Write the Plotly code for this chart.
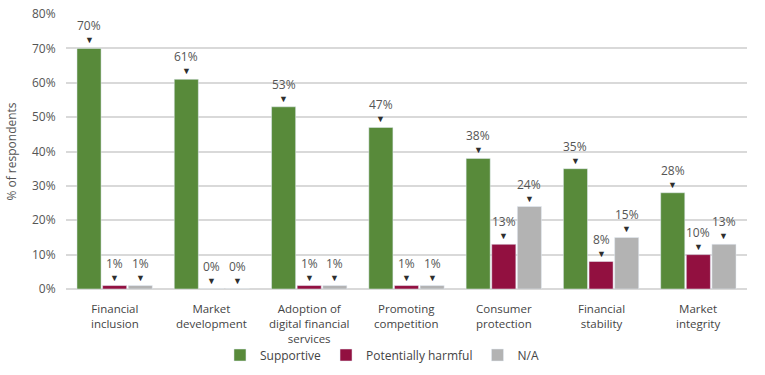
import plotly.graph_objects as go

categories = ["Financial<br>inclusion", "Market<br>development", "Adoption of<br>digital financial<br>services",
              "Promoting<br>competition", "Consumer<br>protection", "Financial<br>stability", "Market<br>integrity"]
supportive = [70, 61, 53, 47, 38, 35, 28]
harmful = [1, 0, 1, 1, 13, 8, 10]
na = [1, 0, 1, 1, 24, 15, 13]
series_names = ["Supportive", "Potentially harmful", "N/A"]
colors = ["#588a3a", "#921040", "#b3b3b3"]

BARGAP = 0.21
GROUPGAP = 0.06

fig = go.Figure()
for name, vals, col in zip(series_names, [supportive, harmful, na], colors):
    fig.add_trace(go.Bar(x=categories, y=vals, name=name, marker_color=col))

# value labels with down-triangle markers
slot = (1 - BARGAP) / 3
annotations = []
for s, vals in enumerate([supportive, harmful, na]):
    off = (s - 1) * slot
    for i, v in enumerate(vals):
        annotations.append(dict(x=i + off, y=v, xref="x", yref="y", text="▼", showarrow=False,
                                yanchor="bottom", yshift=0, font=dict(size=9, color="#2e2e2e")))
        annotations.append(dict(x=i + off, y=v, xref="x", yref="y", text=f"{v}%", showarrow=False,
                                yanchor="bottom", yshift=12, font=dict(size=12, color="#555555")))

# category labels
for i, cat in enumerate(categories):
    annotations.append(dict(x=i, y=0, xref="x", yref="y", text=cat, showarrow=False,
                            yanchor="top", yshift=-10, align="center",
                            font=dict(size=11.5, color="#444444")))

fig.update_layout(
    width=765, height=375,
    margin=dict(l=66, r=18, t=14, b=86, autoexpand=False),
    barmode="group", bargap=BARGAP, bargroupgap=GROUPGAP,
    plot_bgcolor="white", paper_bgcolor="white",
    font=dict(family="Open Sans", size=12, color="#555555"),
    annotations=annotations,
    legend=dict(orientation="h", x=0.464, xanchor="center", y=-0.24, yanchor="middle",
                font=dict(size=12, color="#444444"), itemwidth=30, traceorder="normal"),
    yaxis=dict(range=[0, 80], dtick=10, ticksuffix="%", gridcolor="#d9d9d9", gridwidth=1.5,
               zeroline=True, zerolinecolor="#d9d9d9", zerolinewidth=1.5, automargin=False,
               ticks="outside", ticklen=7, tickcolor="rgba(0,0,0,0)",
               tickfont=dict(size=12, color="#555555"),
               title=dict(text="% of respondents", font=dict(size=12, color="#555555"), standoff=12)),
    xaxis=dict(showticklabels=False, showline=False, automargin=False, ticks=""),
)
fig.write_html("out.html")
